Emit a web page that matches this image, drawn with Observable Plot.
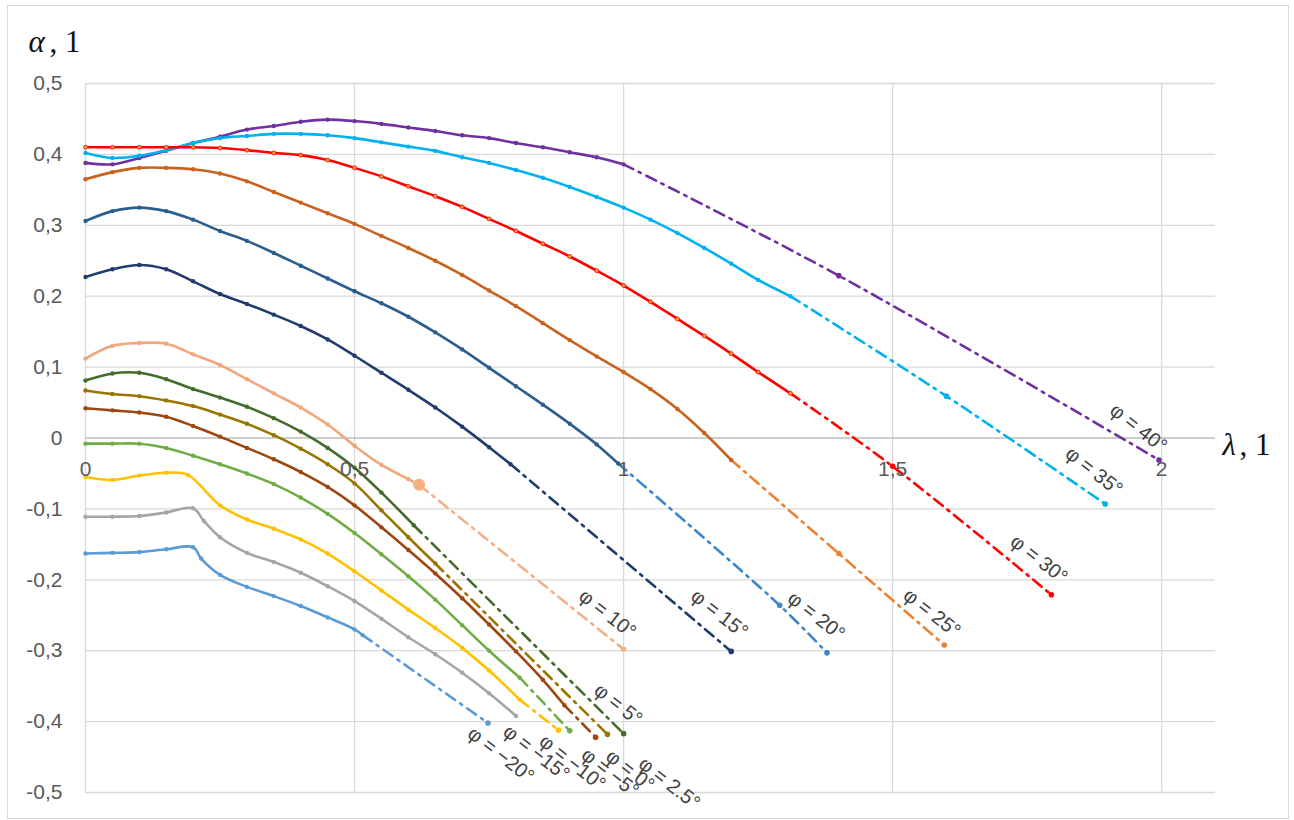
<!DOCTYPE html>
<html><head><meta charset="utf-8">
<script src="https://cdn.jsdelivr.net/npm/d3@7"></script>
<script src="https://cdn.jsdelivr.net/npm/@observablehq/plot@0.6"></script>
<style>
body{margin:0;background:#fff;}
#wrap{position:relative;width:1294px;height:820px;overflow:hidden;}
#border{position:absolute;left:7px;top:5px;width:1282px;height:814px;border:1.5px solid #d9d9d9;pointer-events:none;box-sizing:border-box;}
</style></head><body><div id="wrap"><div id="chart"></div><div id="border"></div></div>
<script>
// ---- data: [λ, α] pairs ----
const phi40 = [[0,0.388],[0.05,0.386],[0.1,0.395],[0.15,0.405],[0.2,0.416],[0.25,0.425],[0.3,0.435],[0.35,0.44],[0.4,0.446],[0.45,0.449],[0.5,0.447],[0.55,0.443],[0.6,0.438],[0.65,0.433],[0.7,0.427],[0.75,0.423],[0.8,0.416],[0.85,0.41],[0.9,0.403],[0.95,0.396],[1.0,0.386]];
const phi40Ext = [[1.0,0.386],[1.4,0.229],[1.995,-0.031]];
const phi35 = [[0,0.402],[0.05,0.395],[0.1,0.398],[0.15,0.406],[0.2,0.416],[0.25,0.423],[0.3,0.426],[0.35,0.429],[0.4,0.429],[0.45,0.427],[0.5,0.423],[0.55,0.417],[0.6,0.411],[0.65,0.405],[0.7,0.396],[0.75,0.388],[0.8,0.378],[0.85,0.367],[0.9,0.354],[0.95,0.34],[1.0,0.325],[1.05,0.308],[1.1,0.289],[1.15,0.268],[1.2,0.246],[1.25,0.223],[1.31,0.2]];
const phi35Ext = [[1.31,0.2],[1.6,0.059],[1.895,-0.093]];
const phi30 = [[0,0.41],[0.05,0.41],[0.1,0.41],[0.15,0.41],[0.2,0.41],[0.25,0.409],[0.3,0.406],[0.35,0.402],[0.4,0.399],[0.45,0.392],[0.5,0.381],[0.55,0.369],[0.6,0.355],[0.65,0.341],[0.7,0.326],[0.75,0.309],[0.8,0.292],[0.85,0.274],[0.9,0.256],[0.95,0.236],[1.0,0.215],[1.05,0.192],[1.1,0.168],[1.15,0.144],[1.2,0.119],[1.25,0.093],[1.31,0.063]];
const phi30Ext = [[1.31,0.063],[1.5,-0.04],[1.795,-0.221]];
const phi25 = [[0,0.365],[0.05,0.375],[0.1,0.381],[0.15,0.381],[0.2,0.379],[0.25,0.373],[0.3,0.362],[0.35,0.347],[0.4,0.332],[0.45,0.317],[0.5,0.302],[0.55,0.285],[0.6,0.268],[0.65,0.25],[0.7,0.23],[0.75,0.208],[0.8,0.186],[0.85,0.162],[0.9,0.138],[0.95,0.115],[1.0,0.093],[1.05,0.069],[1.1,0.041],[1.15,0.007],[1.2,-0.031]];
const phi25Ext = [[1.2,-0.031],[1.4,-0.163],[1.596,-0.292]];
const phi20 = [[0,0.306],[0.05,0.32],[0.1,0.325],[0.15,0.32],[0.2,0.308],[0.25,0.292],[0.3,0.278],[0.35,0.261],[0.4,0.243],[0.45,0.225],[0.5,0.207],[0.55,0.19],[0.6,0.171],[0.65,0.149],[0.7,0.125],[0.75,0.099],[0.8,0.073],[0.85,0.047],[0.9,0.02],[0.95,-0.009],[0.99,-0.036]];
const phi20Ext = [[0.99,-0.036],[1.29,-0.236],[1.378,-0.303]];
const phi15 = [[0,0.227],[0.05,0.238],[0.1,0.244],[0.15,0.238],[0.2,0.221],[0.25,0.203],[0.3,0.189],[0.35,0.174],[0.4,0.158],[0.45,0.139],[0.5,0.116],[0.55,0.092],[0.6,0.068],[0.65,0.043],[0.7,0.016],[0.75,-0.013],[0.79,-0.037]];
const phi15Ext = [[0.79,-0.037],[1.2,-0.301]];
const phi10 = [[0,0.112],[0.05,0.13],[0.1,0.134],[0.15,0.133],[0.2,0.118],[0.25,0.103],[0.3,0.083],[0.35,0.063],[0.4,0.043],[0.45,0.019],[0.5,-0.011],[0.55,-0.038],[0.6,-0.058],[0.62,-0.066]];
const phi10Ext = [[0.62,-0.066],[1.0,-0.298]];
const phi5 = [[0,0.081],[0.05,0.091],[0.1,0.092],[0.15,0.083],[0.2,0.069],[0.25,0.057],[0.3,0.044],[0.35,0.028],[0.4,0.009],[0.45,-0.014],[0.5,-0.042],[0.55,-0.077],[0.61,-0.123]];
const phi5Ext = [[0.61,-0.123],[1.0,-0.417]];
const phi2_5 = [[0,0.067],[0.05,0.062],[0.1,0.059],[0.15,0.053],[0.2,0.045],[0.25,0.033],[0.3,0.02],[0.35,0.004],[0.4,-0.015],[0.45,-0.037],[0.5,-0.064],[0.55,-0.102],[0.6,-0.14],[0.65,-0.177]];
const phi2_5Ext = [[0.65,-0.177],[0.97,-0.418]];
const phi0 = [[0,0.042],[0.05,0.039],[0.1,0.036],[0.15,0.03],[0.2,0.017],[0.25,0.002],[0.3,-0.014],[0.35,-0.03],[0.4,-0.048],[0.45,-0.069],[0.5,-0.095],[0.55,-0.126],[0.6,-0.158],[0.65,-0.191],[0.7,-0.226],[0.75,-0.263],[0.8,-0.301],[0.85,-0.341],[0.89,-0.377]];
const phi0Ext = [[0.89,-0.377],[0.948,-0.422]];
const phiM5 = [[0,-0.008],[0.05,-0.008],[0.1,-0.008],[0.15,-0.014],[0.2,-0.025],[0.25,-0.037],[0.3,-0.05],[0.35,-0.065],[0.4,-0.084],[0.45,-0.107],[0.5,-0.134],[0.55,-0.164],[0.6,-0.195],[0.65,-0.228],[0.7,-0.264],[0.75,-0.3],[0.807,-0.338]];
const phiM5Ext = [[0.807,-0.338],[0.9,-0.413]];
const phiM10 = [[0,-0.055],[0.05,-0.059],[0.1,-0.053],[0.15,-0.049],[0.19,-0.052],[0.25,-0.095],[0.3,-0.115],[0.35,-0.128],[0.4,-0.143],[0.45,-0.163],[0.5,-0.188],[0.55,-0.215],[0.6,-0.242],[0.65,-0.268],[0.7,-0.296],[0.75,-0.328],[0.807,-0.369]];
const phiM10Ext = [[0.807,-0.369],[0.879,-0.412]];
const phiM15 = [[0,-0.111],[0.05,-0.111],[0.1,-0.11],[0.15,-0.105],[0.2,-0.099],[0.22,-0.117],[0.25,-0.14],[0.3,-0.162],[0.35,-0.175],[0.4,-0.19],[0.45,-0.209],[0.5,-0.23],[0.55,-0.255],[0.6,-0.281],[0.65,-0.305],[0.7,-0.331],[0.75,-0.36],[0.8,-0.392]];
const phiM20 = [[0,-0.163],[0.05,-0.162],[0.1,-0.161],[0.15,-0.157],[0.2,-0.154],[0.215,-0.17],[0.25,-0.193],[0.3,-0.21],[0.35,-0.223],[0.4,-0.237],[0.45,-0.253],[0.5,-0.27],[0.515,-0.278]];
const phiM20Ext = [[0.515,-0.278],[0.748,-0.402]];

const phiNames = ["40","35","30","25","20","15","10","5","2.5","0","−5","−10","−15","−20"];
const labelLam =   [1.957,1.874,1.772,1.573,1.358,1.178,0.970,0.990,1.085,1.012,0.975,0.905,0.838,0.772];
const labelAlpha = [0.014,-0.047,-0.171,-0.247,-0.251,-0.248,-0.248,-0.376,-0.487,-0.469,-0.472,-0.458,-0.444,-0.447];

const xTicks = [0, 0.5, 1, 1.5, 2];
const xTickLabels = ["0","0,5","1","1,5","2"];
const yTicks = [0.5,0.4,0.3,0.2,0.1,0,-0.1,-0.2,-0.3,-0.4,-0.5];
const yTickLabels = ["0,5","0,4","0,3","0,2","0,1","0","-0,1","-0,2","-0,3","-0,4","-0,5"];

// ---- styles ----
const solidPts = [phi40,phi35,phi30,phi25,phi20,phi15,phi10,phi5,phi2_5,phi0,phiM5,phiM10,phiM15,phiM20];
const extPts   = [phi40Ext,phi35Ext,phi30Ext,phi25Ext,phi20Ext,phi15Ext,phi10Ext,phi5Ext,phi2_5Ext,phi0Ext,phiM5Ext,phiM10Ext,null,phiM20Ext];
const solidColor = ["#7030A0","#00B0F0","#FF0000","#C8621E","#2B5E8E","#203C6E","#F4A57B","#436B2A","#9A7500","#9E4610","#70AD47","#FFC000","#A5A5A5","#5B9BD5"];
const extColor   = ["#7030A0","#00B0F0","#FF0000","#EE8233","#3F86C8","#203C6E","#F4B183","#436B2A","#9A7500","#9E4610","#70AD47","#FFC000","#A5A5A5","#5B9BD5"];

const X = d => d[0], Y = d => d[1];
const marks = [];
marks.push(Plot.ruleY(yTicks.filter(d => d !== 0), {y: d => d, stroke: "#d9d9d9", strokeWidth: 1.3}));
marks.push(Plot.ruleX(xTicks, {x: d => d, stroke: "#d9d9d9", strokeWidth: 1.3}));
marks.push(Plot.ruleY([0], {y: d => d, stroke: "#bcbcbc", strokeWidth: 1.5}));

solidPts.forEach((pts, i) => {
  const ext = extPts[i];
  if (ext) {
    marks.push(Plot.line(ext, {x: X, y: Y, stroke: extColor[i], strokeWidth: 2.6, strokeDasharray: "11,6,2.5,6", curve: "catmull-rom"}));
    marks.push(Plot.dot(ext.slice(1), {x: X, y: Y, r: 2.8, fill: extColor[i]}));
  }
  marks.push(Plot.line(pts, {x: X, y: Y, stroke: solidColor[i], strokeWidth: 2.6, curve: "catmull-rom", strokeLinejoin: "round"}));
  if (i === 2) {
    marks.push(Plot.dot(pts, {x: X, y: Y, r: 2, fill: "#F2A33A", stroke: "#FF0000", strokeWidth: 0.8}));
  } else {
    marks.push(Plot.dot(pts, {x: X, y: Y, r: 2.2, fill: solidColor[i]}));
  }
});
// enlarged end marker of φ = 10°
marks.push(Plot.dot([phi10[phi10.length - 1]], {x: X, y: Y, r: 6, fill: "#F4B183"}));

// curve labels
marks.push(Plot.text(phiNames, {x: (d, i) => labelLam[i], y: (d, i) => labelAlpha[i], text: d => "φ = " + d + "°", rotate: 38, fontSize: 20, fill: "#404040"}));

// tick labels
marks.push(Plot.text(xTicks, {x: d => d, y: () => 0, dy: 31, text: (d, i) => xTickLabels[i], fontSize: 21, fill: "#595959"}));
marks.push(Plot.text(yTicks, {x: () => 0, y: d => d, dx: -23, textAnchor: "end", text: (d, i) => yTickLabels[i], fontSize: 21, fill: "#595959"}));

// axis titles
const serif = "Liberation Serif, Times New Roman, serif";
marks.push(Plot.text(["α"], {frameAnchor: "top-left", dx: -57, dy: -41, textAnchor: "start", lineAnchor: "middle", fontSize: 31, fontStyle: "italic", fontFamily: serif, fill: "#111"}));
marks.push(Plot.text([", 1"], {frameAnchor: "top-left", dx: -36, dy: -41, textAnchor: "start", lineAnchor: "middle", fontSize: 31, fontFamily: serif, fill: "#111"}));
marks.push(Plot.text(["λ"], {x: () => 2.1, y: () => 0, dx: 7, dy: 7, textAnchor: "start", lineAnchor: "middle", fontSize: 31, fontStyle: "italic", fontFamily: serif, fill: "#111"}));
marks.push(Plot.text([", 1"], {x: () => 2.1, y: () => 0, dx: 24, dy: 7, textAnchor: "start", lineAnchor: "middle", fontSize: 31, fontFamily: serif, fill: "#111"}));

const chart = Plot.plot({
  width: 1294, height: 820,
  marginLeft: 85, marginRight: 79, marginTop: 83, marginBottom: 28,
  x: {domain: [0, 2.1], axis: null},
  y: {domain: [-0.5, 0.5], axis: null},
  style: {background: "transparent", fontFamily: "Liberation Sans, Arial, sans-serif", overflow: "visible"},
  marks
});
document.getElementById("chart").appendChild(chart);
</script>
</body></html>
